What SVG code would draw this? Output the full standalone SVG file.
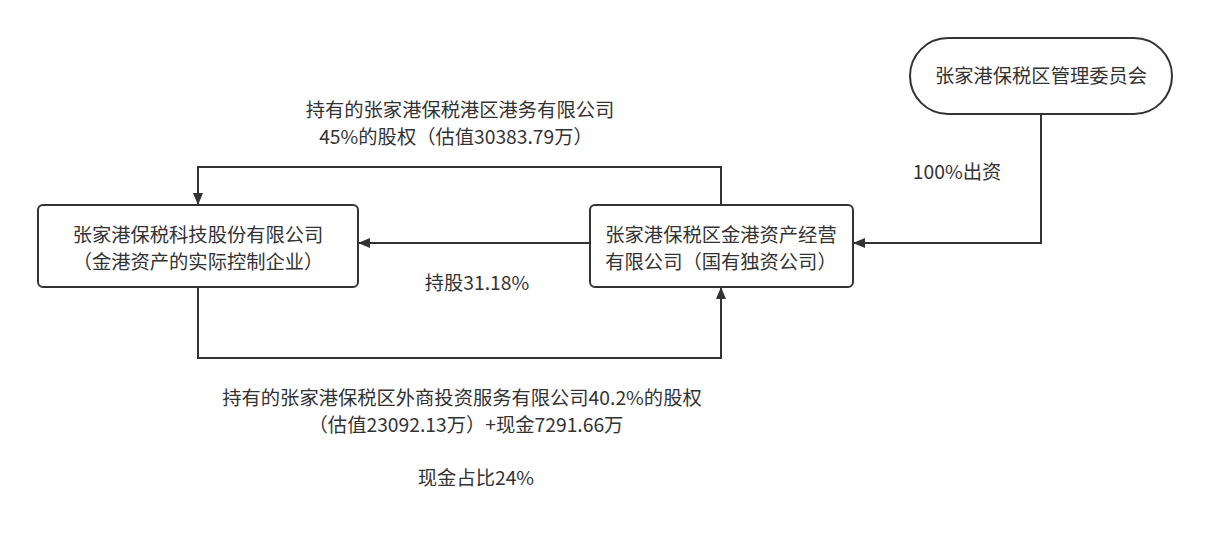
<svg xmlns="http://www.w3.org/2000/svg" width="1206" height="541" viewBox="0 0 1206 541">
<defs>
<style>
.box{fill:#fff;stroke:#333;stroke-width:2}
.ln{fill:none;stroke:#333;stroke-width:2}
.t{font-family:"Noto Sans CJK SC","Noto Sans",sans-serif;font-size:19.3px;fill:#333;text-anchor:middle}
</style>
<marker id="ah" viewBox="0 0 12 10" refX="12" refY="5" markerWidth="12" markerHeight="10" markerUnits="userSpaceOnUse" orient="auto">
<path d="M0,0 L12,5 L0,10 Z" fill="#333"/>
</marker>
</defs>
<rect width="1206" height="541" fill="#fff"/>
<g id="connectors">
<path class="ln" d="M1041,114 V243 H853" marker-end="url(#ah)"/>
<path class="ln" d="M721,205 V167 H198 V205" marker-end="url(#ah)"/>
<path class="ln" d="M590,243 H358" marker-end="url(#ah)"/>
<path class="ln" d="M198,287 V358 H721 V287" marker-end="url(#ah)"/>
</g>
<g id="node-keji">
<rect class="box" x="38" y="205" width="320" height="82" rx="5"/>
<text class="t" x="198" y="242">张家港保税科技股份有限公司</text>
<text class="t" x="198" y="269">（金港资产的实际控制企业）</text>
</g>
<g id="node-jingang">
<rect class="box" x="590" y="205" width="263" height="82" rx="5"/>
<text class="t" x="721" y="242">张家港保税区金港资产经营</text>
<text class="t" x="721" y="269">有限公司（国有独资公司）</text>
</g>
<g id="node-guanwei">
<rect class="box" x="910" y="38" width="262" height="76" rx="38"/>
<text class="t" x="1041" y="83">张家港保税区管理委员会</text>
</g>
<g id="labels">
<text class="t" x="460" y="117">持有的张家港保税港区港务有限公司</text>
<text class="t" x="456" y="144">45%的股权（估值30383.79万）</text>
<text class="t" x="477" y="290">持股31.18%</text>
<text class="t" x="957" y="179">100%出资</text>
<text class="t" x="462" y="405">持有的张家港保税区外商投资服务有限公司40.2%的股权</text>
<text class="t" x="466" y="432">（估值23092.13万）+现金7291.66万</text>
<text class="t" x="476" y="485">现金占比24%</text>
</g>
</svg>
